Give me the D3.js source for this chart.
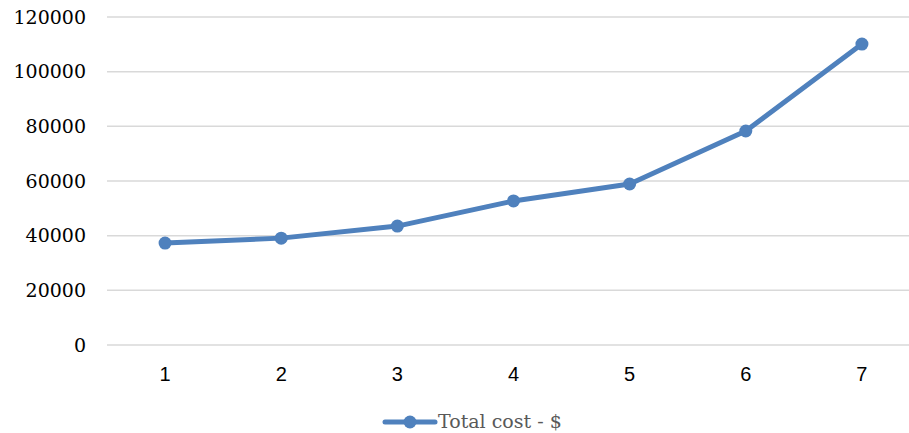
<!DOCTYPE html>
<html>
<head>
<meta charset="utf-8">
<script src="https://cdn.jsdelivr.net/npm/d3@7"></script>
<style>
  body { margin: 0; background: #fff; overflow: hidden; }
</style>
</head>
<body>
<div id="chart"></div>
<script>
// chart data
const categories = ["1", "2", "3", "4", "5", "6", "7"];
const totalCost = [37300, 39100, 43500, 52700, 58900, 78300, 110100];
const yTicks = [0, 20000, 40000, 60000, 80000, 100000, 120000];
const seriesName = "Total cost - $";

const width = 909, height = 433;
// plot area runs slightly past the right edge, as in the original
const margin = {top: 17, right: -11, bottom: 88, left: 107};
const lineColor = "#4f81bd";

const svg = d3.select("#chart").append("svg")
    .attr("width", width)
    .attr("height", height);

const x = d3.scaleBand()
    .domain(categories)
    .range([margin.left, width - margin.right]);

const y = d3.scaleLinear()
    .domain([0, 120000])
    .range([height - margin.bottom, margin.top]);

// gridlines
svg.append("g")
    .selectAll("line")
    .data(yTicks)
    .enter().append("line")
    .attr("x1", margin.left)
    .attr("x2", width)
    .attr("y1", d => y(d))
    .attr("y2", d => y(d))
    .attr("stroke", "#d9d9d9")
    .attr("stroke-width", 1.5);

// y labels
svg.append("g")
    .selectAll("text")
    .data(yTicks)
    .enter().append("text")
    .attr("x", 86)
    .attr("y", d => y(d))
    .attr("dy", "0.35em")
    .attr("text-anchor", "end")
    .style("font-family", "'DejaVu Serif', serif")
    .style("font-size", "19px")
    .style("fill", "#000")
    .text(d => d);

// x labels
svg.append("g")
    .selectAll("text")
    .data(categories)
    .enter().append("text")
    .attr("x", d => x(d) + x.bandwidth() / 2)
    .attr("y", 381)
    .attr("text-anchor", "middle")
    .style("font-family", "'Liberation Sans', Arial, sans-serif")
    .style("font-size", "20px")
    .style("fill", "#000")
    .text(d => d);

const pts = categories.map((c, i) => [x(c) + x.bandwidth() / 2, y(totalCost[i])]);

svg.append("path")
    .attr("d", d3.line()(pts))
    .attr("fill", "none")
    .attr("stroke", lineColor)
    .attr("stroke-width", 5)
    .attr("stroke-linejoin", "round");

svg.append("g")
    .selectAll("circle")
    .data(pts)
    .enter().append("circle")
    .attr("cx", d => d[0])
    .attr("cy", d => d[1])
    .attr("r", 6.5)
    .attr("fill", lineColor);

// legend
const lg = svg.append("g").attr("transform", "translate(385,422)");
lg.append("line")
    .attr("x1", 0).attr("x2", 50)
    .attr("stroke", lineColor)
    .attr("stroke-width", 5)
    .attr("stroke-linecap", "round");
lg.append("circle")
    .attr("cx", 25)
    .attr("r", 6.5)
    .attr("fill", lineColor);
lg.append("text")
    .attr("x", 53)
    .attr("dy", "0.3em")
    .style("font-family", "'DejaVu Serif', serif")
    .style("font-size", "19px")
    .style("fill", "#595959")
    .text(seriesName);
</script>
</body>
</html>
